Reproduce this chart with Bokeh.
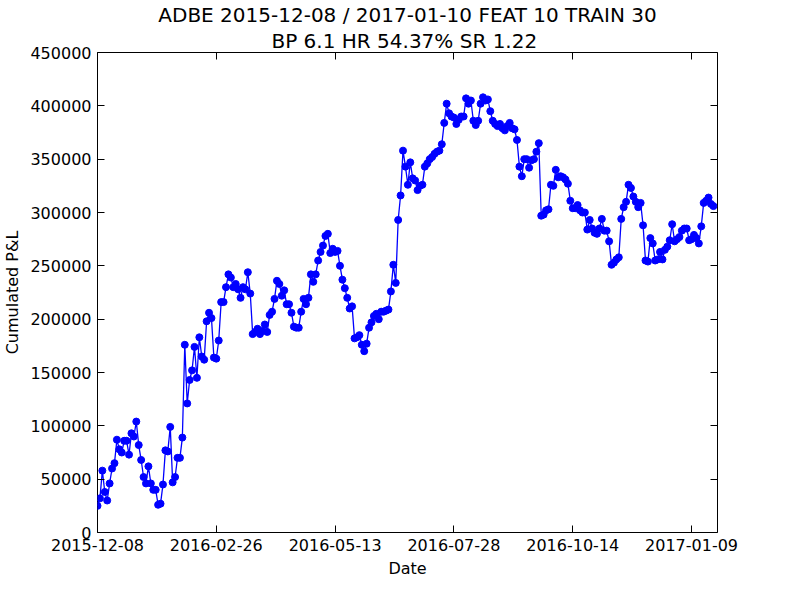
from bokeh.embed import file_html
from bokeh.resources import INLINE
from bokeh.models import (ColumnDataSource, Title, LinearAxis, FixedTicker,
                          NumeralTickFormatter, Range1d)
from bokeh.plotting import figure

# cumulated P&L, thousands, one value per trading day
pnl_k = [
    25, 32, 58, 38, 30, 46, 60, 65, 87, 78, 75, 86, 86, 73, 93, 90, 104, 82, 68, 52,
    46, 62, 46, 40, 40, 26, 27, 45, 77, 76, 99, 47, 52, 70, 70, 89, 176, 121, 143, 152,
    174, 145, 183, 165, 162, 198, 206, 201, 164, 163, 180, 216, 216, 230, 242, 239, 230, 233, 228, 220,
    230, 228, 244, 224, 186, 188, 191, 186, 189, 195, 188, 204, 207, 219, 236, 233, 222, 227, 214, 214,
    206, 193, 192, 192, 207, 219, 214, 220, 242, 235, 242, 255, 263, 269, 278, 280, 262, 266, 263, 264,
    250, 237, 229, 220, 210, 212, 182, 183, 185, 176, 170, 177, 192, 197, 203, 205, 200, 207, 207, 208,
    209, 226, 251, 234, 293, 316, 358, 343, 326, 347, 332, 330, 321, 325, 326, 343, 346, 350, 352, 355,
    357, 358, 364, 384, 402, 393, 390, 389, 383, 387, 390, 390, 407, 402, 405, 386, 382, 386, 402, 408,
    405, 406, 395, 386, 383, 381, 383, 379, 377, 381, 384, 379, 378, 368, 343, 334, 350, 350, 342, 349,
    350, 357, 365, 297, 298, 302, 303, 326, 325, 340, 333, 334, 333, 331, 327, 311, 304, 304, 307, 302,
    300, 300, 284, 293, 285, 281, 280, 285, 294, 283, 283, 273, 251, 253, 256, 258, 294, 305, 310, 326,
    323, 315, 310, 305, 309, 288, 255, 254, 276, 271, 255, 256, 263, 256, 265, 268, 274, 289, 273, 275,
    277, 283, 285, 285, 274, 275, 279, 276, 271, 287, 309, 311, 314, 308, 306,
]
tick_idx = [0, 49, 98, 147, 196, 245]
tick_labels = ["2015-12-08", "2016-02-26", "2016-05-13", "2016-07-28", "2016-10-14", "2017-01-09"]
y_ticks = list(range(0, 450001, 50000))

x = list(range(len(pnl_k)))
y = [v * 1000 for v in pnl_k]
src = ColumnDataSource(dict(x=x, y=y))

p = figure(width=784, height=584, frame_width=620, frame_height=480,
           output_backend="svg", toolbar_location=None,
           x_range=Range1d(0, len(pnl_k) + 0.7), y_range=Range1d(0, 450000),
           min_border_left=95, min_border_right=61, min_border_bottom=52,
           min_border_top=4)
p.line("x", "y", source=src, color="#0000ff", line_width=1.3)
p.scatter("x", "y", source=src, size=7, color="#0000ff")

right = LinearAxis(ticker=FixedTicker(ticks=y_ticks),
                   major_label_overrides={t: "" for t in y_ticks})
top = LinearAxis(ticker=FixedTicker(ticks=tick_idx),
                 major_label_overrides={t: "" for t in tick_idx})
p.add_layout(right, "right")
p.add_layout(top, "above")

for txt in ["BP 6.1 HR 54.37%  SR 1.22", "ADBE 2015-12-08 / 2017-01-10 FEAT 10 TRAIN 30"]:
    p.add_layout(Title(text=txt, align="center", text_font_size="15pt",
                       text_font_style="normal", text_font="DejaVu Sans",
                       text_color="black", standoff=0), "above")

p.grid.visible = False
p.outline_line_color = "black"
p.outline_line_width = 1
p.xaxis.ticker = FixedTicker(ticks=tick_idx)
p.below[0].major_label_overrides = {t: l for t, l in zip(tick_idx, tick_labels)}
p.yaxis.ticker = FixedTicker(ticks=y_ticks)
p.left[0].formatter = NumeralTickFormatter(format="0")
p.below[0].axis_label = "Date"
p.left[0].axis_label = "Cumulated P&L"

for ax in p.axis:
    ax.major_tick_in = 7
    ax.major_tick_out = 0
    ax.minor_tick_in = 0
    ax.minor_tick_out = 0
    ax.axis_line_color = None
    ax.major_label_text_font = "DejaVu Sans"
    ax.major_label_text_font_size = "12pt"
    ax.major_label_text_color = "black"
    ax.axis_label_text_font = "DejaVu Sans"
    ax.axis_label_text_font_size = "12pt"
    ax.axis_label_text_font_style = "normal"
    ax.axis_label_text_color = "black"
    ax.major_label_standoff = 6
for ax in (top, right):
    ax.major_label_standoff = 0
    ax.major_label_text_font_size = "1px"

open("out.html", "w").write(file_html(p, INLINE))
